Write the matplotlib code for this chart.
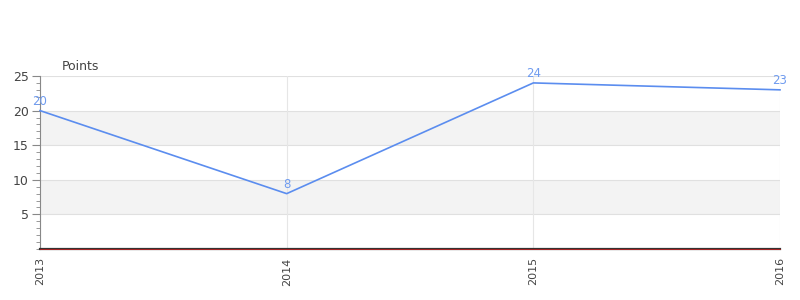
import matplotlib
matplotlib.use("Agg")
import matplotlib.pyplot as plt
from matplotlib.ticker import MultipleLocator

years = [2013, 2014, 2015, 2016]
points = [20, 8, 24, 23]
ytick_vals = [5, 10, 15, 20, 25]

fig = plt.figure(figsize=(8, 3), dpi=100)
ax = fig.add_axes([40/800, 1-249/300, 740/800, 173/300])

ax.set_xlim(years[0], years[-1])
ax.set_ylim(0, 25)

# alternating bands
for lo, hi in [(5, 10), (15, 20)]:
    ax.axhspan(lo, hi, color='#f3f3f3', zorder=0, lw=0)
for v in ytick_vals:
    ax.axhline(v, color='#e0e0e0', lw=0.8, zorder=1)
for x in years:
    ax.axvline(x, color='#e6e6e6', lw=0.8, zorder=1)

ax.plot(years, points, color='#5b8def', lw=1.2, zorder=3, clip_on=False)
for x, y in zip(years, points):
    ax.annotate(str(y), (x, y), xytext=(0, 2), textcoords='offset points',
                ha='center', va='bottom', color='#6f9bef', fontsize=8.5)

ax.axhline(0, color='#bb2222', lw=0.6, zorder=5, clip_on=False)

ax.set_yticks(ytick_vals)
ax.yaxis.set_minor_locator(MultipleLocator(1))
ax.set_xticks(years)
ax.set_xticklabels([str(y) for y in years], rotation=90)
ax.tick_params(axis='y', which='major', length=6, color='#888888', labelsize=9, labelcolor='#444444', pad=2)
ax.tick_params(axis='y', which='minor', length=3, color='#888888')
ax.tick_params(axis='x', length=0, labelsize=8, labelcolor='#444444', pad=6)

for s in ['top', 'right']:
    ax.spines[s].set_visible(False)
ax.spines['left'].set_color('#888888')
ax.spines['bottom'].set_color('#333333')
ax.spines['bottom'].set_linewidth(1.6)
ax.spines['bottom'].set_zorder(4)

fig.text(62/800, 1-66/300, 'Points', fontsize=9, color='#444444', va='center', ha='left')

fig.savefig('out.png', dpi=100)
